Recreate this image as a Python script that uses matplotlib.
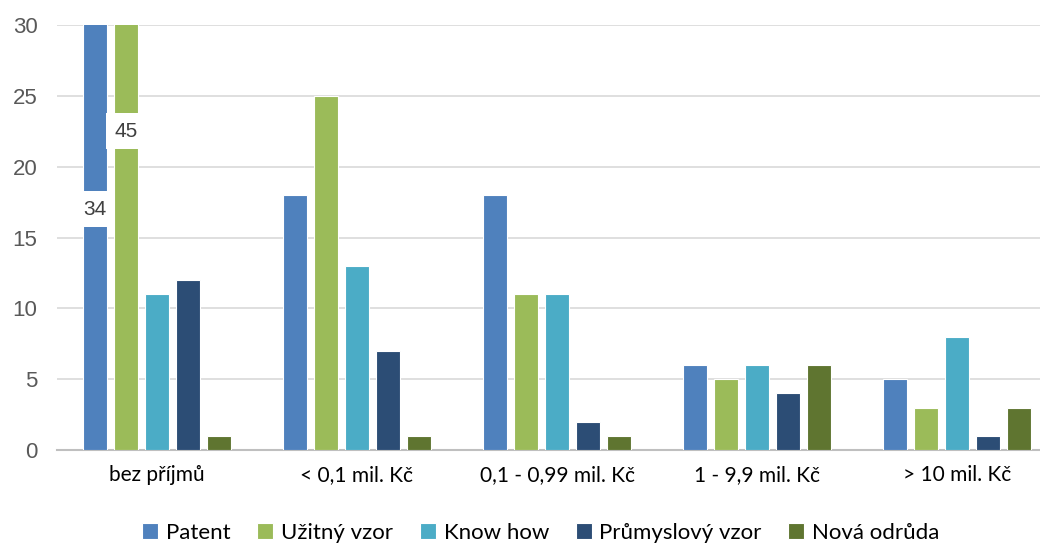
import numpy as np
import matplotlib.pyplot as plt

categories = ['bez příjmů', '< 0,1 mil. Kč', '0,1 - 0,99 mil. Kč', '1 - 9,9 mil. Kč', '> 10 mil. Kč']
series = ['Patent', 'Užitný vzor', 'Know how', 'Průmyslový vzor', 'Nová odrůda']
patent = [34, 18, 18, 6, 5]
uzitny_vzor = [45, 25, 11, 5, 3]
know_how = [11, 13, 11, 6, 8]
prumyslovy_vzor = [12, 7, 2, 4, 1]
nova_odruda = [1, 1, 1, 6, 3]
values = [patent, uzitny_vzor, know_how, prumyslovy_vzor, nova_odruda]
colors = ['#4F81BD', '#9BBB59', '#4BACC6', '#2C4D75', '#5F7530']
y_max = 30

fig = plt.figure(figsize=(10.4, 5.43), dpi=100)
ax = fig.add_axes([57 / 1040, 93 / 543, 1000 / 1040, 425 / 543])

x = np.arange(len(categories))
step = 0.155
width = 0.12
for i, (name, vals, col) in enumerate(zip(series, values, colors)):
    pos = x + (i - 2) * step
    ax.bar(pos, vals, width, color=col, edgecolor='white', linewidth=0.8, label=name, zorder=3)
    for p, v in zip(pos, vals):
        if v > y_max:
            ax.text(p, v / 2, str(v), ha='center', va='center', fontsize=15,
                    family='Liberation Sans', color='#404040', zorder=5,
                    bbox=dict(facecolor='white', edgecolor='none', pad=6))

ax.set_xlim(-0.5, len(categories) - 0.5)
ax.set_ylim(0, y_max)
ax.set_yticks(range(0, 31, 5))
ax.yaxis.grid(True, color='#D9D9D9', linewidth=1.2, zorder=0)
ax.set_axisbelow(True)
for s in ['top', 'right', 'left']:
    ax.spines[s].set_visible(False)
ax.spines['bottom'].set_color('#BFBFBF')
ax.spines['bottom'].set_linewidth(1.5)
ax.tick_params(axis='both', length=0)
ax.tick_params(axis='y', labelsize=16, labelcolor='#595959', pad=14)
ax.tick_params(axis='x', pad=11)
for lbl in ax.get_yticklabels():
    lbl.set_family('Liberation Sans')
ax.set_xticks(x)
ax.set_xticklabels(categories, fontsize=15, family='Lato', color='#000000')

fig.legend(loc='center', bbox_to_anchor=(541 / 1040, 1 - 533 / 543), ncol=5,
           frameon=False, prop={'family': 'Lato', 'size': 16},
           handlelength=0.72, handleheight=0.72, handletextpad=0.35, columnspacing=1.2)

fig.savefig('out.png', dpi=100)
